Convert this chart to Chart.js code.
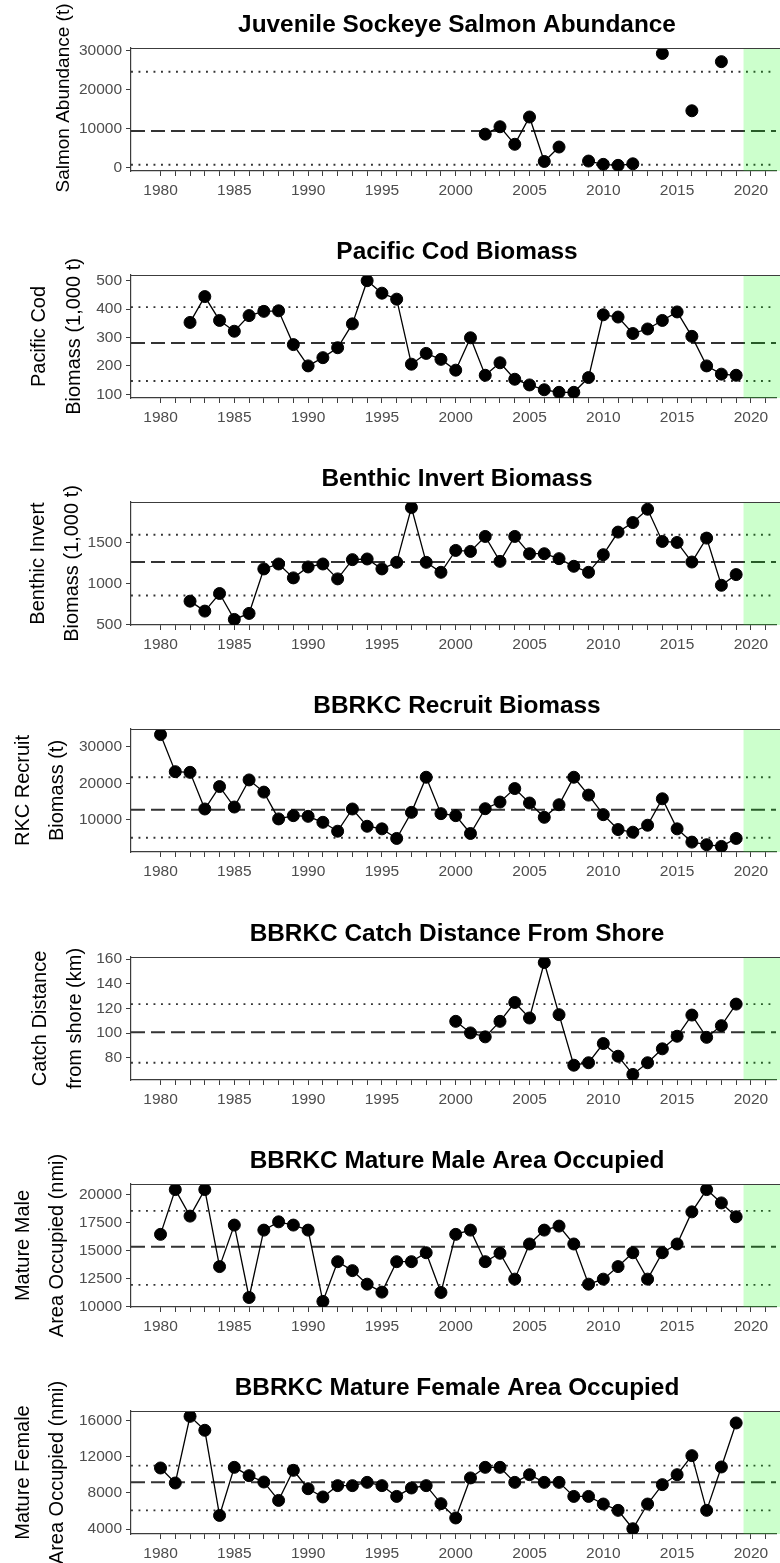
<!DOCTYPE html>
<html>
<head>
<meta charset="utf-8">
<script src="https://cdn.jsdelivr.net/npm/chart.js@4.4.1/dist/chart.umd.min.js"></script>
<style>
  html, body { margin: 0; padding: 0; background: #fff; width: 780px; height: 1563px; overflow: hidden; }
  canvas { position: absolute; left: 0; }
</style>
</head>
<body>
<script>
// years shared by every panel
const years = [1980,1981,1982,1983,1984,1985,1986,1987,1988,1989,
               1990,1991,1992,1993,1994,1995,1996,1997,1998,1999,
               2000,2001,2002,2003,2004,2005,2006,2007,2008,2009,
               2010,2011,2012,2013,2014,2015,2016,2017,2018,2019];
const yearTicks = [1980,1981,1982,1983,1984,1985,1986,1987,1988,1989,1990,1991,1992,1993,1994,1995,1996,1997,1998,1999,
                   2000,2001,2002,2003,2004,2005,2006,2007,2008,2009,2010,2011,2012,2013,2014,2015,2016,2017,2018,2019,2020,2021];

// series values (null = no survey)
const salmon = [null,null,null,null,null,null,null,null,null,null,
                null,null,null,null,null,null,null,null,null,null,
                null,null,8600,10500,6000,13000,1600,5300,null,1700,
                850,600,1000,null,29300,null,14600,null,27200,null];
const cod = [null,null,353,444,360,322,377,392,394,275,
             200,229,264,348,500,456,435,206,244,223,
             185,299,167,211,153,133,116,107,107,159,
             380,372,314,330,360,390,304,200,171,167];
const benthic = [null,null,786,665,879,564,637,1178,1238,1069,
                 1202,1238,1057,1291,1299,1178,1258,1924,1258,1137,
                 1403,1391,1573,1270,1573,1363,1363,1303,1210,1137,
                 1351,1626,1742,1904,1512,1500,1262,1553,979,1109];
const recruit = [33380,23180,23000,12920,19090,13460,20910,17560,10190,11090,
                 10900,9260,6810,12920,8170,7460,4820,11990,21650,11640,
                 11090,6180,13000,14830,18540,14560,10630,14090,21650,16740,
                 11360,7270,6540,8450,15730,7460,3810,3100,2630,4820];
const distance = [null,null,null,null,null,null,null,null,null,null,
                  null,null,null,null,null,null,null,null,null,null,
                  109.6,100.2,97,109.6,124.9,112.3,157.3,115,74,76,
                  91.6,81.3,66.5,76,87.3,97.5,114.7,96.6,106.1,123.6];
const maleArea = [16440,20440,18070,20440,13560,17270,10800,16820,17560,17270,
                  16820,10450,14000,13200,11990,11280,14000,14000,14800,11250,
                  16440,16820,14000,14750,12440,15580,16820,17180,15580,11990,
                  12440,13560,14800,12440,14800,15580,18450,20440,19250,18010];
const femaleArea = [10740,9080,16440,14900,5500,10810,9890,9190,7160,10480,
                    8450,7540,8790,8790,9150,8790,7600,8530,8790,6800,
                    5220,9640,10810,10810,9150,10000,9150,9150,7600,7600,
                    6760,6060,4030,6760,8900,10000,12100,6060,10850,15710];

// reference lines: [mean, upper, lower]
const salmonRef = [9420, 24600, 770];
const codRef = [281, 407, 147];
const benthicRef = [1262, 1593, 855];
const recruitRef = [12730, 21650, 5000];
const distanceRef = [100.7, 123.6, 76];
const maleRef = [15340, 18540, 11930];
const femaleRef = [9150, 11000, 6055];

// y tick labels
const salmonTicks = [0, 10000, 20000, 30000];
const codTicks = [100, 200, 300, 400, 500];
const benthicTicks = [500, 1000, 1500];
const recruitTicks = [10000, 20000, 30000];
const distanceTicks = [80, 100, 120, 140, 160];
const maleTicks = [10000, 12500, 15000, 17500, 20000];
const femaleTicks = [4000, 8000, 12000, 16000];

const panels = [
  { title: 'Juvenile Sockeye Salmon Abundance', ytitle: ['Salmon Abundance (t)'], ypos: [64], ymid: 98, ysize: 19,
    values: salmon, ref: salmonRef, ticks: salmonTicks, min: -850, max: 30700 },
  { title: 'Pacific Cod Biomass', ytitle: ['Pacific Cod', 'Biomass (1,000 t)'], ypos: [39, 74],
    values: cod, ref: codRef, ticks: codTicks, min: 87, max: 520 },
  { title: 'Benthic Invert Biomass', ytitle: ['Benthic Invert', 'Biomass (1,000 t)'], ypos: [38, 72],
    values: benthic, ref: benthicRef, ticks: benthicTicks, min: 496, max: 1992 },
  { title: 'BBRKC Recruit Biomass', ytitle: ['RKC Recruit', 'Biomass (t)'], ypos: [23, 57],
    values: recruit, ref: recruitRef, ticks: recruitTicks, min: 1093, max: 34917 },
  { title: 'BBRKC Catch Distance From Shore', ytitle: ['Catch Distance', 'from shore (km)'], ypos: [40, 75],
    values: distance, ref: distanceRef, ticks: distanceTicks, min: 62, max: 161.8 },
  { title: 'BBRKC Mature Male Area Occupied', ytitle: ['Mature Male', 'Area Occupied (nmi)'], ypos: [23, 57],
    values: maleArea, ref: maleRef, ticks: maleTicks, min: 9950, max: 20940 },
  { title: 'BBRKC Mature Female Area Occupied', ytitle: ['Mature Female', 'Area Occupied (nmi)'], ypos: [23, 57],
    values: femaleArea, ref: femaleRef, ticks: femaleTicks, min: 3450, max: 17030 }
];

const X_MIN = 1978, X_MAX = 2021.7, GREEN_FROM = 2019.5;
const FONT = '"Liberation Sans", Arial, Helvetica, sans-serif';
const AXIS = '#3c3c3c';
const W = 783, H = 228;
const tops = [0, 227, 454, 681, 909, 1136, 1363];

const decor = {
  id: 'decor',
  afterDatasetsDraw(chart) {
    const { ctx, chartArea: a, scales: { x } } = chart;
    const gx = x.getPixelForValue(GREEN_FROM);
    ctx.save();
    ctx.fillStyle = 'rgba(0,255,0,0.2)';
    ctx.fillRect(gx, a.top, W - gx, a.bottom - a.top);
    ctx.restore();
  },
  afterDraw(chart, args, opts) {
    const { ctx, chartArea: a } = chart;
    ctx.save();
    // top edge of the panel box
    ctx.strokeStyle = AXIS;
    ctx.lineWidth = 1.2;
    ctx.beginPath();
    ctx.moveTo(a.left, a.top + 0.5);
    ctx.lineTo(W, a.top + 0.5);
    ctx.stroke();
    // panel title
    ctx.fillStyle = '#000';
    ctx.font = 'bold 24.4px ' + FONT;
    ctx.textAlign = 'center';
    ctx.textBaseline = 'alphabetic';
    ctx.fillText(opts.title, (a.left + W) / 2, a.top - 16);
    // y axis title, one or two lines
    ctx.font = (opts.ysize || 20) + 'px ' + FONT;
    ctx.textBaseline = 'middle';
    const mid = opts.ymid != null ? opts.ymid : (a.top + a.bottom) / 2;
    opts.ytitle.forEach((t, i) => {
      ctx.save();
      ctx.translate(opts.ypos[i], mid);
      ctx.rotate(-Math.PI / 2);
      ctx.fillText(t, 0, 0);
      ctx.restore();
    });
    ctx.restore();
  }
};

function refLine(v, dash, width) {
  return {
    type: 'line',
    data: [{ x: X_MIN, y: v }, { x: X_MAX, y: v }],
    borderColor: '#333',
    borderWidth: width,
    borderDash: dash,
    pointRadius: 0,
    fill: false
  };
}

panels.forEach((p, i) => {
  const canvas = document.createElement('canvas');
  canvas.width = W;
  canvas.height = H;
  canvas.style.top = tops[i] + 'px';
  document.body.appendChild(canvas);

  const chart = new Chart(canvas, {
    type: 'line',
    data: {
      datasets: [
        {
          data: years.map((yr, k) => ({ x: yr, y: p.values[k] })),
          borderColor: '#000',
          borderWidth: 1.3,
          pointRadius: 6,
          pointBackgroundColor: '#000',
          pointBorderColor: '#000',
          pointBorderWidth: 1,
          spanGaps: false,
          tension: 0
        },
        refLine(p.ref[0], [14, 6], 2),
        refLine(p.ref[1], [1.9, 5.6], 1.9),
        refLine(p.ref[2], [1.9, 5.6], 1.9)
      ]
    },
    options: {
      responsive: false,
      animation: false,
      devicePixelRatio: 1,
      layout: { padding: { top: 48, left: 0, right: 0, bottom: 0 } },
      plugins: {
        legend: { display: false },
        tooltip: { enabled: false },
        decor: { title: p.title, ytitle: p.ytitle, ypos: p.ypos, ymid: p.ymid, ysize: p.ysize }
      },
      scales: {
        x: {
          type: 'linear',
          min: X_MIN,
          max: X_MAX,
          afterFit: s => { s.height = H - 48 - 123; },
          afterBuildTicks: s => { s.ticks = yearTicks.map(v => ({ value: v })); },
          grid: { drawOnChartArea: false, drawTicks: true, tickLength: 5, color: AXIS, lineWidth: 1 },
          border: { display: true, color: AXIS, width: 1.2 },
          ticks: {
            autoSkip: false,
            maxRotation: 0,
            padding: 5,
            color: '#4d4d4d',
            font: { family: FONT, size: 15.5 },
            callback: v => (v % 5 === 0 && v <= 2020) ? String(v) : ''
          }
        },
        y: {
          type: 'linear',
          min: p.min,
          max: p.max,
          afterFit: s => { s.width = 131; },
          afterBuildTicks: s => { s.ticks = p.ticks.map(v => ({ value: v })); },
          grid: { drawOnChartArea: false, drawTicks: true, tickLength: 5, color: AXIS, lineWidth: 1 },
          border: { display: true, color: AXIS, width: 1.2 },
          ticks: {
            padding: 4,
            color: '#4d4d4d',
            font: { family: FONT, size: 15.5 },
            callback: v => String(v)
          }
        }
      }
    },
    plugins: [decor]
  });

  // keep the plot area running out to the canvas edge (x axis may reserve some right padding)
  const gap = W - chart.chartArea.right;
  if (gap > 0.5) {
    chart.options.layout.padding.right = -gap;
    chart.update();
  }
});
</script>
</body>
</html>
